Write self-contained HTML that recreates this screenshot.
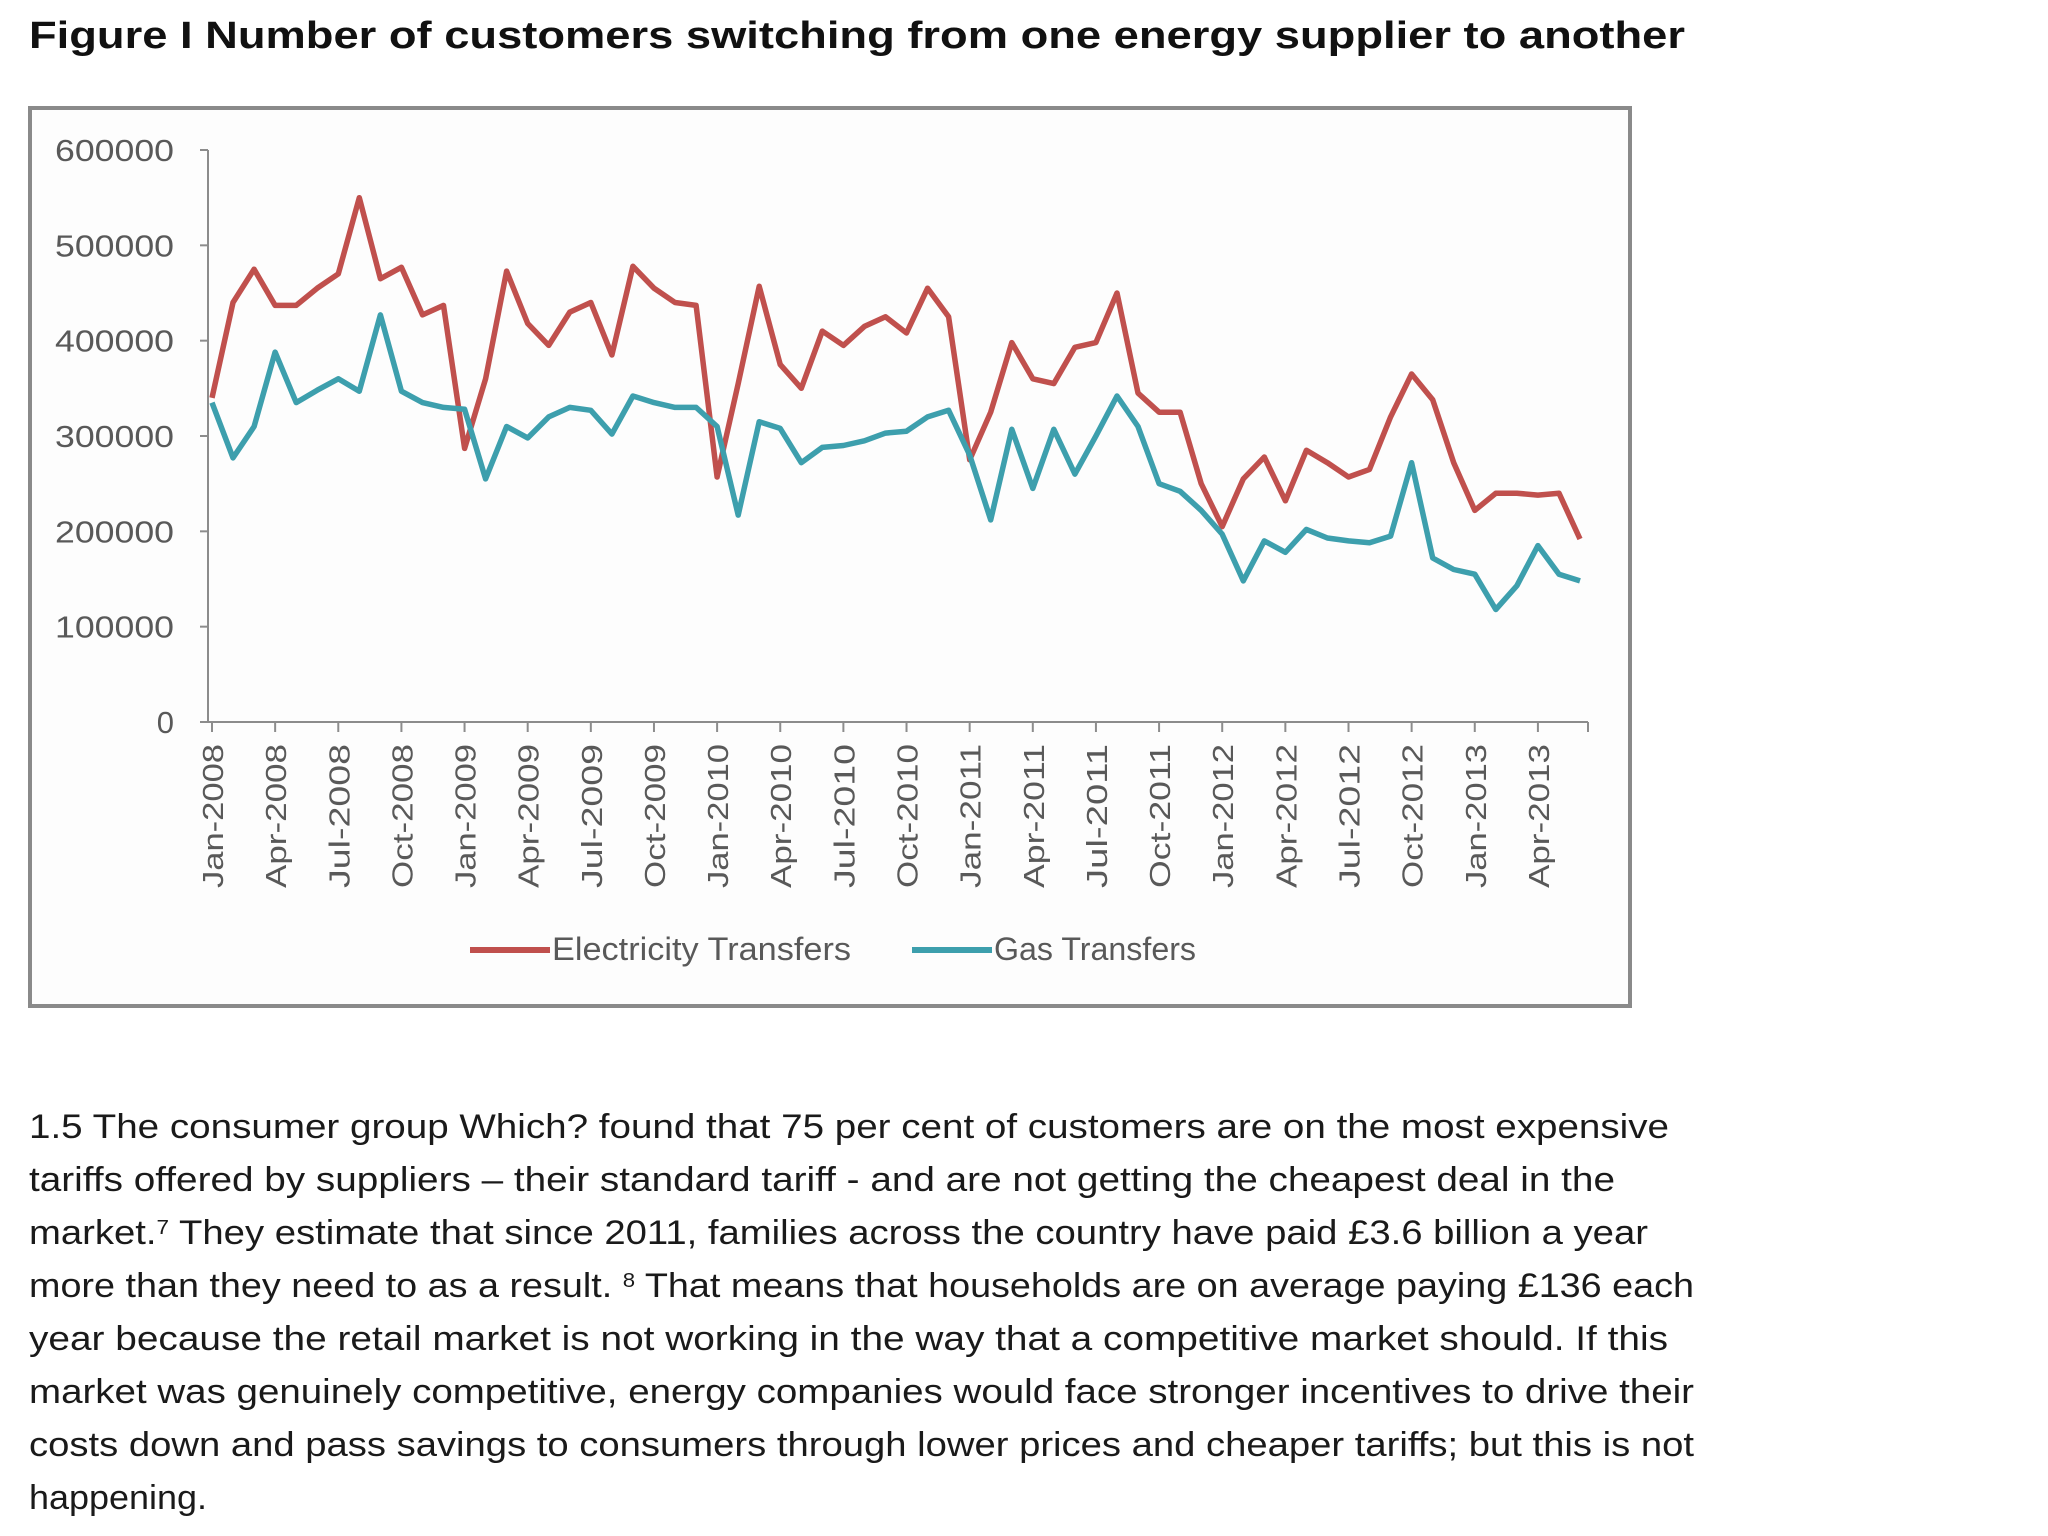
<!DOCTYPE html>
<html><head><meta charset="utf-8"><style>
html,body{margin:0;padding:0;background:#fff;}
svg{display:block;}
</style></head><body>
<svg id="fig" width="2048" height="1536" viewBox="0 0 2048 1536" xmlns="http://www.w3.org/2000/svg" font-family="'Liberation Sans', sans-serif">
<text x="29" y="48" font-size="38" font-weight="bold" fill="#111" textLength="1656" lengthAdjust="spacingAndGlyphs">Figure I Number of customers switching from one energy supplier to another</text>
<rect x="30" y="108" width="1600" height="898" fill="#fdfdfd" stroke="#8a8a8a" stroke-width="4"/>
<g id="axes"></g>
<g id="series"></g>
<g>
<line x1="470" y1="950" x2="550" y2="950" stroke="#c0504d" stroke-width="6"/>
<text x="552" y="960" font-size="32" fill="#595959" textLength="299" lengthAdjust="spacingAndGlyphs">Electricity Transfers</text>
<line x1="912" y1="950" x2="992" y2="950" stroke="#3d9fad" stroke-width="6"/>
<text x="994" y="960" font-size="32" fill="#595959" textLength="202" lengthAdjust="spacingAndGlyphs">Gas Transfers</text>
</g>
<g font-size="34" fill="#1a1a1a">
<text x="29" y="1138" textLength="1640" lengthAdjust="spacingAndGlyphs">1.5 The consumer group Which? found that 75 per cent of customers are on the most expensive</text>
<text x="29" y="1191" textLength="1586" lengthAdjust="spacingAndGlyphs">tariffs offered by suppliers – their standard tariff - and are not getting the cheapest deal in the</text>
<text x="29" y="1244" textLength="1619" lengthAdjust="spacingAndGlyphs">market.<tspan font-size="20" dy="-10">7</tspan><tspan dy="10"> They estimate that since 2011, families across the country have paid £3.6 billion a year</tspan></text>
<text x="29" y="1297" textLength="1665" lengthAdjust="spacingAndGlyphs">more than they need to as a result. <tspan font-size="20" dy="-10">8</tspan><tspan dy="10"> That means that households are on average paying £136 each</tspan></text>
<text x="29" y="1350" textLength="1639" lengthAdjust="spacingAndGlyphs">year because the retail market is not working in the way that a competitive market should. If this</text>
<text x="29" y="1403" textLength="1665" lengthAdjust="spacingAndGlyphs">market was genuinely competitive, energy companies would face stronger incentives to drive their</text>
<text x="29" y="1456" textLength="1665" lengthAdjust="spacingAndGlyphs">costs down and pass savings to consumers through lower prices and cheaper tariffs; but this is not</text>
<text x="29" y="1509" textLength="178" lengthAdjust="spacingAndGlyphs">happening.</text>
</g>
</svg>
<script>
const months = ["Jan","Feb","Mar","Apr","May","Jun","Jul","Aug","Sep","Oct","Nov","Dec"];
const startYear = 2008;
const yTicks = [0,100000,200000,300000,400000,500000,600000];
const electricity = [340000,440000,475000,437000,437000,455000,470000,550000,465000,477000,427000,437000,
287000,360000,473000,418000,395000,430000,440000,385000,478000,455000,440000,437000,
257000,355000,457000,375000,350000,410000,395000,415000,425000,408000,455000,425000,
275000,325000,398000,360000,355000,393000,398000,450000,345000,325000,325000,250000,
205000,255000,278000,232000,285000,272000,257000,265000,320000,365000,338000,272000,
222000,240000,240000,238000,240000,192000];
const gas = [335000,277000,310000,388000,335000,348000,360000,347000,427000,347000,335000,330000,
328000,255000,310000,298000,320000,330000,327000,302000,342000,335000,330000,330000,
310000,217000,315000,308000,272000,288000,290000,295000,303000,305000,320000,327000,
280000,212000,307000,245000,307000,260000,300000,342000,310000,250000,242000,222000,
197000,148000,190000,178000,202000,193000,190000,188000,195000,272000,172000,160000,
155000,118000,143000,185000,155000,148000];

const NS="http://www.w3.org/2000/svg";
const X0=212, X1=1580, Y0=722, Y1=150, YMAX=600000;
const n = electricity.length;
function xs(i){return X0 + i*(X1-X0)/(n-1);}
function ys(v){return Y0 - v/YMAX*(Y0-Y1);}
function mk(tag, attrs, parent){const e=document.createElementNS(NS,tag);for(const k in attrs)e.setAttribute(k,attrs[k]);parent.appendChild(e);return e;}
const axes=document.getElementById('axes');
const ser=document.getElementById('series');

const ya=mk('line',{x1:X0-4,y1:Y1,x2:X0-4,y2:Y0,stroke:'#8c8c8c','stroke-width':2},axes);


const xa=mk('line',{x1:X0-8,y1:Y0,x2:X1+8,y2:Y0,stroke:'#8c8c8c','stroke-width':2},axes);



yTicks.forEach(v=>{
  const y=ys(v);
  const tk=mk('line',{x1:X0-12,y1:y,x2:X0-4,y2:y,stroke:'#8c8c8c','stroke-width':2},axes);
  
  
  const s=String(v);
  const attrs={x:174,y:y+11,'text-anchor':'end','font-size':31,fill:'#595959'};
  if(s.length>1){attrs.textLength=Math.round(119*s.length/6);attrs.lengthAdjust='spacingAndGlyphs';}
  const t=mk('text',attrs,axes);
  t.textContent=s;
  
  
});

for(let i=0;i<n;i+=3){
  const x=xs(i);
  const tk=mk('line',{x1:x,y1:Y0,x2:x,y2:Y0+10,stroke:'#8c8c8c','stroke-width':2},axes);
  
  
  const label=months[i%12]+'-'+(startYear+Math.floor(i/12));
  const t=mk('text',{x:0,y:0,'text-anchor':'end','font-size':29,fill:'#595959',textLength:144,lengthAdjust:'spacingAndGlyphs',transform:'translate('+(x+11)+',744) rotate(-90)'},axes);
  t.textContent=label;
  
  
}
const tkEnd=mk('line',{x1:X1+8,y1:Y0,x2:X1+8,y2:Y0+10,stroke:'#8c8c8c','stroke-width':2},axes);



function line(data,color,name){
  const pts=data.map((v,i)=>xs(i).toFixed(1)+','+ys(v).toFixed(1)).join(' ');
  const p=mk('polyline',{points:pts,fill:'none',stroke:color,'stroke-width':5.5,'stroke-linejoin':'round'},ser);
  
  
}
line(electricity,'#c0504d','electricity-line');
line(gas,'#3d9fad','gas-line');
</script>
</body></html>
